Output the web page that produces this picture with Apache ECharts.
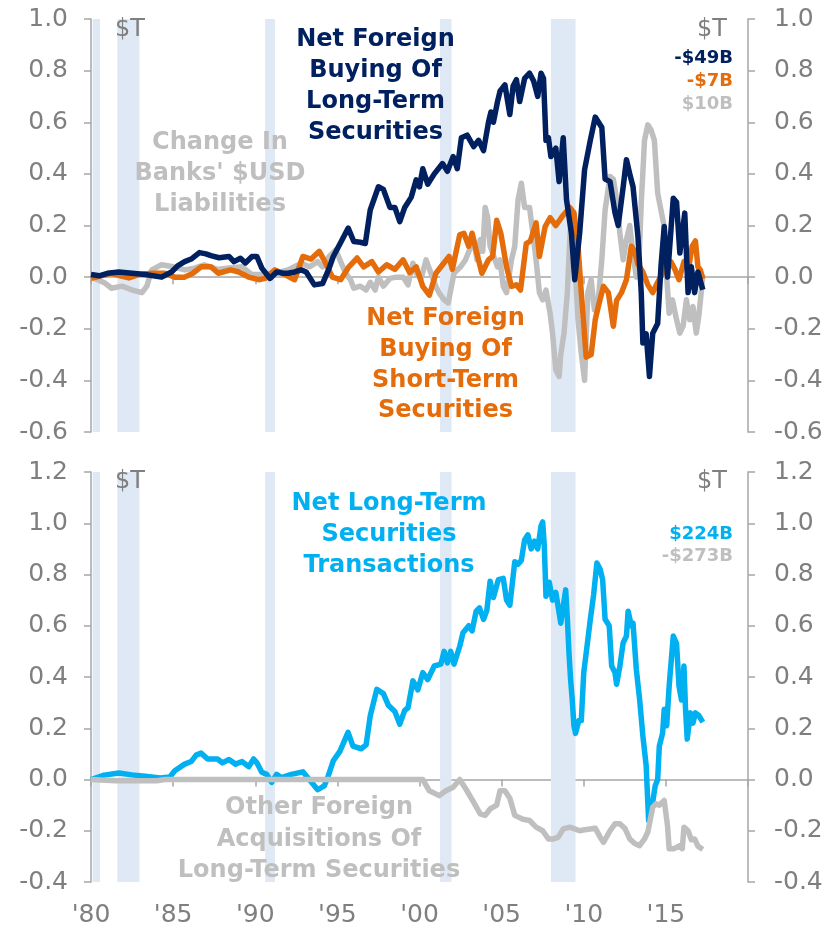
<!DOCTYPE html>
<html>
<head>
<meta charset="utf-8">
<script src="https://cdn.jsdelivr.net/npm/echarts@6/dist/echarts.min.js"></script>
<style>
html,body{margin:0;padding:0;background:#fff;}
#chart{width:829px;height:928px;}
</style>
</head>
<body>
<div id="chart"></div>
<script>
// ---------- DATA ($ trillions, [year, value]) ----------
const netForeignLongTerm = [
[1980.0,0.01],[1980.5,0.005],[1981.0,0.015],[1981.7,0.02],[1982.5,0.015],[1983.3,0.01],[1984.3,0.0],[1984.9,0.02],
[1985.3,0.045],[1985.7,0.06],[1986.1,0.07],[1986.6,0.095],[1987.0,0.09],[1987.3,0.083],[1987.8,0.075],[1988.4,0.08],
[1988.7,0.06],[1989.1,0.073],[1989.4,0.055],[1989.8,0.08],[1990.1,0.08],[1990.4,0.035],[1990.9,-0.005],[1991.3,0.02],
[1991.7,0.015],[1992.0,0.015],[1992.4,0.02],[1992.8,0.028],[1993.1,0.02],[1993.6,-0.03],[1994.1,-0.025],[1994.5,0.035],
[1994.75,0.08],[1995.25,0.14],[1995.66,0.19],[1996.0,0.138],[1996.4,0.135],[1996.7,0.13],[1997.0,0.26],[1997.5,0.35],
[1997.8,0.34],[1998.2,0.27],[1998.5,0.27],[1998.8,0.215],[1999.1,0.27],[1999.5,0.31],[1999.8,0.377],[2000.0,0.35],
[2000.2,0.42],[2000.5,0.36],[2000.9,0.40],[2001.4,0.44],[2001.7,0.41],[2002.05,0.467],[2002.3,0.42],[2002.55,0.54],
[2002.9,0.55],[2003.3,0.506],[2003.6,0.53],[2003.9,0.49],[2004.2,0.60],[2004.35,0.64],[2004.5,0.60],[2004.75,0.68],
[2004.9,0.72],[2005.2,0.745],[2005.5,0.63],[2005.7,0.74],[2005.9,0.765],[2006.1,0.68],[2006.4,0.77],[2006.7,0.79],
[2006.95,0.76],[2007.2,0.70],[2007.4,0.79],[2007.55,0.77],[2007.7,0.53],[2007.85,0.54],[2008.0,0.467],[2008.3,0.50],
[2008.5,0.37],[2008.75,0.54],[2008.95,0.30],[2009.25,0.17],[2009.45,-0.01],[2009.75,0.17],[2010.05,0.416],[2010.4,0.53],
[2010.7,0.62],[2010.9,0.60],[2011.1,0.58],[2011.3,0.38],[2011.6,0.37],[2011.9,0.25],[2012.1,0.20],[2012.4,0.35],
[2012.6,0.455],[2012.8,0.40],[2013.0,0.35],[2013.3,0.157],[2013.5,-0.06],[2013.6,-0.255],[2013.8,-0.22],[2014.0,-0.385],
[2014.2,-0.217],[2014.5,-0.18],[2014.7,0.04],[2014.9,0.196],[2015.1,0.0],[2015.45,0.306],[2015.65,0.29],[2015.85,0.093],
[2016.15,0.248],[2016.35,-0.06],[2016.55,0.04],[2016.75,-0.06],[2016.95,0.02],[2017.25,-0.049]
];
const netForeignShortTerm = [
[1980.0,-0.005],[1980.6,0.005],[1981.25,0.015],[1981.8,0.005],[1982.3,-0.003],[1982.9,0.01],[1983.7,0.015],[1984.5,0.015],
[1985.1,0.0],[1985.7,0.0],[1986.2,0.015],[1986.7,0.04],[1987.3,0.04],[1987.75,0.015],[1988.5,0.028],[1989.0,0.02],
[1989.6,0.0],[1990.2,-0.01],[1990.6,-0.005],[1991.2,0.028],[1991.8,0.01],[1992.4,-0.01],[1992.9,0.08],[1993.4,0.07],
[1993.9,0.1],[1994.2,0.065],[1994.7,0.0],[1995.2,-0.01],[1995.7,0.04],[1996.2,0.074],[1996.6,0.04],[1997.1,0.06],
[1997.5,0.02],[1998.0,0.048],[1998.5,0.03],[1999.0,0.067],[1999.4,0.018],[1999.8,0.04],[2000.2,-0.036],[2000.6,-0.07],
[2001.0,0.015],[2001.4,0.048],[2001.8,0.08],[2002.0,0.03],[2002.45,0.164],[2002.7,0.17],[2003.0,0.12],[2003.2,0.17],
[2003.5,0.09],[2003.8,0.015],[2004.2,0.067],[2004.45,0.08],[2004.7,0.22],[2004.95,0.17],[2005.3,0.04],[2005.6,-0.036],
[2005.9,-0.03],[2006.15,-0.05],[2006.5,0.13],[2006.75,0.14],[2007.1,0.21],[2007.3,0.08],[2007.65,0.196],[2007.95,0.23],
[2008.3,0.2],[2008.75,0.24],[2009.15,0.27],[2009.4,0.25],[2009.65,0.12],[2009.85,-0.06],[2010.15,-0.31],[2010.45,-0.30],
[2010.7,-0.165],[2010.9,-0.11],[2011.2,-0.036],[2011.5,-0.06],[2011.8,-0.19],[2012.0,-0.09],[2012.3,-0.06],[2012.6,-0.01],
[2012.9,0.12],[2013.1,0.10],[2013.3,0.05],[2013.6,0.02],[2013.9,-0.03],[2014.2,-0.06],[2014.5,-0.02],[2014.8,0.015],
[2015.0,0.04],[2015.3,0.06],[2015.55,0.03],[2015.8,-0.01],[2016.1,0.06],[2016.4,0.04],[2016.6,0.12],[2016.8,0.14],
[2016.95,0.04],[2017.1,0.028],[2017.25,-0.007]
];
const banksUsdLiabilities = [
[1980.0,0.0],[1980.4,-0.01],[1980.85,-0.023],[1981.25,-0.043],[1981.9,-0.035],[1982.5,-0.05],[1983.1,-0.06],[1983.4,-0.035],
[1983.7,0.028],[1984.3,0.048],[1985.0,0.04],[1985.7,0.028],[1986.3,0.035],[1986.9,0.048],[1987.7,0.03],[1988.4,0.035],
[1989.2,0.04],[1989.8,0.01],[1990.4,0.01],[1991.2,0.015],[1992.0,0.028],[1992.8,0.054],[1993.3,0.04],[1993.8,0.06],
[1994.1,0.04],[1994.5,0.08],[1994.9,0.105],[1995.2,0.06],[1995.5,0.015],[1995.8,-0.01],[1996.0,-0.043],[1996.4,-0.035],
[1996.75,-0.05],[1997.0,-0.02],[1997.3,-0.05],[1997.5,0.0],[1997.8,-0.035],[1998.2,-0.005],[1998.6,0.0],[1999.0,0.0],
[1999.3,-0.03],[1999.6,0.054],[1999.8,0.015],[2000.1,-0.005],[2000.4,0.067],[2000.7,0.015],[2001.0,-0.036],[2001.2,-0.062],
[2001.5,-0.088],[2001.75,-0.1],[2001.9,-0.05],[2002.1,0.015],[2002.5,0.04],[2002.8,0.067],[2003.3,0.145],[2003.5,0.067],
[2003.7,0.145],[2003.85,0.1],[2004.0,0.27],[2004.15,0.23],[2004.3,0.12],[2004.6,0.067],[2004.75,0.04],[2004.9,0.067],
[2005.1,-0.036],[2005.3,-0.06],[2005.6,0.067],[2005.8,0.12],[2006.0,0.30],[2006.2,0.364],[2006.4,0.27],[2006.7,0.27],
[2006.9,0.17],[2007.1,0.065],[2007.3,-0.06],[2007.5,-0.088],[2007.7,-0.05],[2007.95,-0.14],[2008.1,-0.217],[2008.3,-0.36],
[2008.5,-0.385],[2008.6,-0.3],[2008.8,-0.217],[2009.0,-0.06],[2009.15,0.145],[2009.25,0.26],[2009.45,0.065],[2009.65,-0.165],
[2009.85,-0.295],[2010.05,-0.40],[2010.25,-0.06],[2010.45,-0.01],[2010.65,-0.127],[2010.85,-0.114],[2011.1,0.067],[2011.3,0.26],
[2011.6,0.39],[2011.8,0.38],[2012.0,0.30],[2012.2,0.17],[2012.4,0.067],[2012.6,0.145],[2012.8,0.20],[2013.0,0.09],
[2013.2,0.0],[2013.4,0.12],[2013.5,0.287],[2013.7,0.53],[2013.9,0.59],[2014.1,0.57],[2014.3,0.53],[2014.5,0.326],
[2014.7,0.26],[2014.9,0.196],[2015.05,0.0],[2015.2,-0.14],[2015.4,-0.088],[2015.65,-0.165],[2015.85,-0.217],[2016.05,-0.19],
[2016.25,-0.088],[2016.45,-0.165],[2016.65,-0.114],[2016.85,-0.217],[2017.0,-0.153],[2017.15,-0.06],[2017.25,0.01]
];
const netLongTermTransactions = [
[1980.0,0.0],[1980.8,0.017],[1981.7,0.025],[1982.5,0.018],[1983.3,0.013],[1984.2,0.006],[1984.8,0.01],[1985.1,0.034],
[1985.7,0.06],[1986.1,0.07],[1986.4,0.095],[1986.7,0.103],[1987.1,0.08],[1987.7,0.08],[1988.0,0.065],[1988.4,0.078],
[1988.8,0.06],[1989.2,0.07],[1989.6,0.05],[1989.9,0.08],[1990.1,0.065],[1990.4,0.028],[1990.7,0.02],[1991.0,-0.011],
[1991.3,0.02],[1991.6,0.007],[1992.2,0.02],[1992.9,0.03],[1993.2,0.007],[1993.8,-0.04],[1994.2,-0.025],[1994.45,0.015],
[1994.75,0.073],[1995.15,0.11],[1995.65,0.184],[1995.95,0.13],[1996.45,0.12],[1996.75,0.135],[1997.0,0.248],[1997.4,0.352],
[1997.8,0.335],[1998.1,0.29],[1998.5,0.265],[1998.8,0.216],[1999.1,0.27],[1999.3,0.28],[1999.6,0.385],[1999.9,0.35],
[2000.2,0.417],[2000.5,0.39],[2000.9,0.443],[2001.3,0.45],[2001.5,0.50],[2001.7,0.455],[2001.9,0.50],[2002.1,0.45],
[2002.45,0.52],[2002.65,0.573],[2003.0,0.6],[2003.2,0.58],[2003.45,0.657],[2003.65,0.67],[2003.9,0.625],[2004.1,0.66],
[2004.3,0.774],[2004.5,0.71],[2004.8,0.78],[2005.1,0.785],[2005.3,0.70],[2005.5,0.68],[2005.8,0.85],[2006.0,0.84],
[2006.2,0.855],[2006.4,0.935],[2006.6,0.955],[2006.8,0.90],[2007.0,0.93],[2007.2,0.90],[2007.4,0.99],[2007.5,1.005],
[2007.6,0.91],[2007.7,0.715],[2007.9,0.77],[2008.1,0.70],[2008.3,0.73],[2008.6,0.61],[2008.9,0.74],[2009.0,0.63],
[2009.1,0.495],[2009.2,0.39],[2009.3,0.31],[2009.4,0.21],[2009.5,0.18],[2009.7,0.23],[2009.85,0.23],[2010.0,0.417],
[2010.2,0.52],[2010.4,0.625],[2010.6,0.72],[2010.8,0.845],[2011.0,0.82],[2011.15,0.78],[2011.3,0.625],[2011.55,0.6],
[2011.7,0.443],[2011.9,0.417],[2012.0,0.372],[2012.2,0.443],[2012.4,0.534],[2012.6,0.56],[2012.7,0.657],[2012.9,0.6],
[2013.0,0.61],[2013.2,0.43],[2013.4,0.313],[2013.6,0.17],[2013.8,0.054],[2013.95,-0.16],[2014.15,-0.11],[2014.35,-0.024],
[2014.5,0.0],[2014.6,0.13],[2014.8,0.18],[2014.9,0.274],[2015.05,0.21],[2015.2,0.365],[2015.45,0.56],[2015.65,0.53],
[2015.8,0.365],[2015.95,0.31],[2016.0,0.34],[2016.1,0.443],[2016.2,0.27],[2016.3,0.158],[2016.5,0.26],[2016.65,0.22],
[2016.8,0.26],[2017.0,0.25],[2017.25,0.224]
];
const otherForeignAcquisitions = [
[1980.0,0.0],[1981.5,-0.005],[1984.0,-0.005],[1984.5,0.0],[2000.2,0.0],[2000.6,-0.044],[2001.2,-0.063],[2001.6,-0.044],
[2002.05,-0.03],[2002.45,0.0],[2002.85,-0.04],[2003.3,-0.089],[2003.7,-0.134],[2004.0,-0.14],[2004.3,-0.115],[2004.7,-0.1],
[2004.9,-0.044],[2005.2,-0.044],[2005.5,-0.073],[2005.8,-0.14],[2006.3,-0.155],[2006.7,-0.16],[2007.1,-0.186],[2007.5,-0.2],
[2007.85,-0.232],[2008.15,-0.232],[2008.45,-0.225],[2008.75,-0.193],[2009.15,-0.186],[2009.45,-0.193],[2009.75,-0.2],[2010.05,-0.196],
[2010.4,-0.193],[2010.7,-0.19],[2011.0,-0.225],[2011.2,-0.245],[2011.6,-0.2],[2011.9,-0.173],[2012.2,-0.173],[2012.5,-0.19],
[2012.8,-0.232],[2013.1,-0.25],[2013.4,-0.258],[2013.7,-0.232],[2013.9,-0.205],[2014.2,-0.108],[2014.4,-0.095],[2014.6,-0.1],
[2014.9,-0.082],[2015.1,-0.18],[2015.2,-0.27],[2015.5,-0.27],[2015.85,-0.258],[2016.0,-0.27],[2016.1,-0.186],[2016.35,-0.2],
[2016.55,-0.235],[2016.75,-0.232],[2016.95,-0.26],[2017.25,-0.273]
];
const recessions = [[1980.1,1980.55],[1981.6,1982.95],[1990.6,1991.2],[2001.25,2001.95],[2008.0,2009.5]];
const xLabelYears = [1980,1985,1990,1995,2000,2005,2010,2015];
const topLastValues = ['-$49B','-$7B','$10B'];
const bottomLastValues = ['$224B','-$273B'];

// ---------- STYLE ----------
const FONT = 'DejaVu Sans';
const AXIS_COLOR = '#a6a6a6';
const LABEL_COLOR = '#7f7f7f';
const NAVY = '#002060', ORANGE = '#e46c0a', LGRAY = '#bfbfbf', CYAN = '#00b0f0';
const BAND = '#dfe9f6';

const chart = echarts.init(document.getElementById('chart'), null, {renderer:'canvas'});

function xZeroAxis(g){
  return {gridIndex:g, type:'value', min:1980, max:2020, interval:5, position:'bottom',
    axisLine:{show:true, onZero:true, lineStyle:{color:AXIS_COLOR, width:1.5}},
    axisTick:{show:true, length:7, lineStyle:{color:AXIS_COLOR, width:1.5}},
    axisLabel:{show:false}, splitLine:{show:false}};
}
function yAxis(g, pos, min, max){
  return {gridIndex:g, type:'value', position:pos, min:min, max:max, interval:0.2,
    axisLine:{show:true, onZero:false, lineStyle:{color:AXIS_COLOR, width:1.5}},
    axisTick:{show:true, length:7, lineStyle:{color:AXIS_COLOR, width:1.5}},
    axisLabel:{show:true, fontFamily:FONT, fontSize:25, color:LABEL_COLOR, margin: pos==='left'?23:26,
      formatter:v=>Number(v).toFixed(1)},
    splitLine:{show:false}};
}
function bandSeries(xi, yi){
  return {type:'line', xAxisIndex:xi, yAxisIndex:yi, data:[], silent:true, z:1,
    markArea:{silent:true, itemStyle:{color:BAND}, data:recessions.map(r=>[{xAxis:r[0]},{xAxis:r[1]}])}};
}
function lineSeries(xi, yi, data, color, z){
  return {type:'line', xAxisIndex:xi, yAxisIndex:yi, data:data, showSymbol:false, symbol:'none',
    lineStyle:{color:color, width:5.5, join:'round'}, z:z, silent:true, animation:false};
}
function txt(text, x, y, color, size, weight, align, lh){
  return {type:'text', silent:true, z:100, style:{text:text, x:x, y:y, fill:color, fontFamily:FONT,
    fontSize:size, fontWeight:weight, textAlign:align, textVerticalAlign:'middle', lineHeight:lh||size}};
}

const option = {
  animation:false,
  backgroundColor:'#ffffff',
  grid:[
    {left:91, right:81, top:19, height:413},
    {left:91, right:81, top:472, height:411}
  ],
  xAxis:[
    xZeroAxis(0),
    xZeroAxis(1),
    {gridIndex:1, type:'value', min:1980, max:2020, interval:5, position:'bottom',
      axisLine:{show:false, onZero:false}, axisTick:{show:false}, splitLine:{show:false},
      axisLabel:{show:true, fontFamily:FONT, fontSize:25, color:LABEL_COLOR, margin:21,
        formatter:v=> xLabelYears.indexOf(v)>=0 ? "'"+String(v).slice(2) : ''}}
  ],
  yAxis:[
    yAxis(0,'left',-0.6,1.0), yAxis(0,'right',-0.6,1.0),
    yAxis(1,'left',-0.4,1.2), yAxis(1,'right',-0.4,1.2)
  ],
  series:[
    bandSeries(0,0),
    bandSeries(1,2),
    lineSeries(0,0,banksUsdLiabilities,LGRAY,3),
    lineSeries(0,0,netForeignShortTerm,ORANGE,4),
    lineSeries(0,0,netForeignLongTerm,NAVY,5),
    lineSeries(1,2,netLongTermTransactions,CYAN,3),
    lineSeries(1,2,otherForeignAcquisitions,LGRAY,4)
  ],
  graphic:[
    txt('$T',115,30,LABEL_COLOR,24,'normal','left'),
    txt('$T',727,30,LABEL_COLOR,24,'normal','right'),
    txt('$T',115,482,LABEL_COLOR,24,'normal','left'),
    txt('$T',727,482,LABEL_COLOR,24,'normal','right'),
    txt('Net Foreign\nBuying Of\nLong-Term\nSecurities',375.5,86,NAVY,24,'bold','center',31),
    txt("Change In\nBanks' $USD\nLiabilities",220,174,LGRAY,24,'bold','center',31),
    txt('Net Foreign\nBuying Of\nShort-Term\nSecurities',445.5,365,ORANGE,24,'bold','center',30.7),
    txt(topLastValues[0],733,58.5,NAVY,18,'bold','right'),
    txt(topLastValues[1],733,81.5,ORANGE,18,'bold','right'),
    txt(topLastValues[2],733,104,LGRAY,18,'bold','right'),
    txt('Net Long-Term\nSecurities\nTransactions',389,535,CYAN,24,'bold','center',31),
    txt('Other Foreign\nAcquisitions Of\nLong-Term Securities',319,839.5,LGRAY,24,'bold','center',31.5),
    txt(bottomLastValues[0],733,534,CYAN,18,'bold','right'),
    txt(bottomLastValues[1],733,556,LGRAY,18,'bold','right')
  ]
};
chart.setOption(option);
</script>
</body>
</html>
